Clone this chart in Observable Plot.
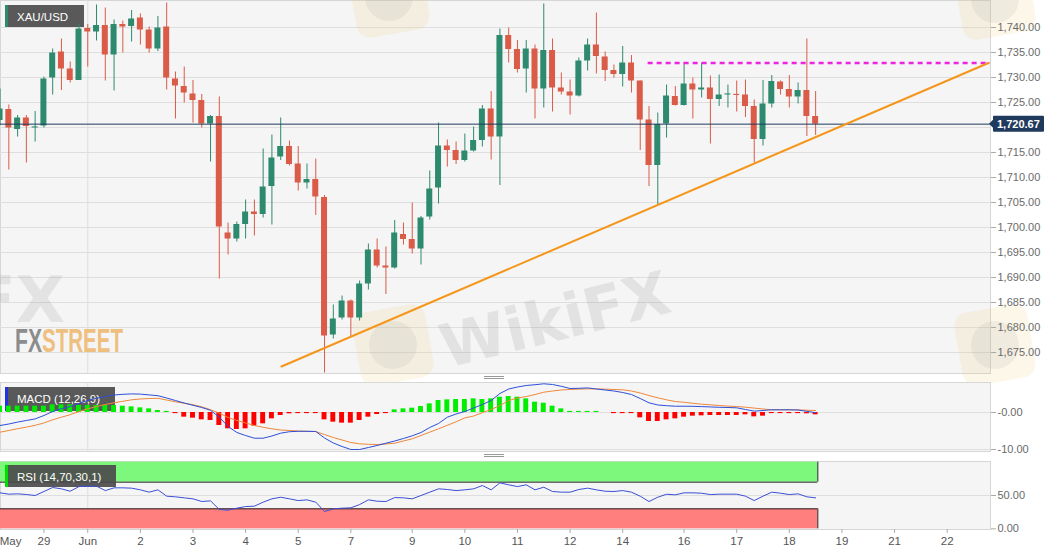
<!DOCTYPE html>
<html><head><meta charset="utf-8">
<script src="https://cdn.jsdelivr.net/npm/d3@7"></script>
<script src="https://cdn.jsdelivr.net/npm/@observablehq/plot@0.6"></script>
<style>
html,body{margin:0;padding:0;background:#fff;}
#chart{position:relative;width:1060px;height:555px;overflow:hidden;background:#fff;}
#chart svg{position:absolute;left:0;}
</style></head><body><div id="chart"></div>
<script>
// ---------- data (4-hour candles, XAU/USD) ----------
const opens = [1721.4,1723.6,1719.6,1721.9,1719.9,1720.3,1729.9,1735.1,1731.7,1729.4,
1739.8,1739.1,1740.4,1734.5,1740.6,1740.2,1741.9,1739.5,1735.7,1740.1,
1729.7,1728.2,1726.7,1725.4,1720.7,1722.2,1698.9,1697.7,1700.6,1703.1,
1702.6,1708.2,1714.1,1716.2,1712.7,1708.9,1709.6,1706.0,1678.5,1681.9,
1685.3,1681.9,1688.7,1695.5,1692.3,1691.9,1698.6,1697.6,1695.7,1702.1,
1707.9,1716.3,1715.4,1713.4,1715.3,1717.4,1723.7,1718.1,1738.4,1735.6,
1731.7,1735.7,1727.7,1735.4,1727.9,1727.1,1726.3,1733.3,1736.5,1734.1,
1731.4,1730.6,1732.9,1729.3,1721.5,1712.4,1720.7,1726.2,1724.4,1728.7,
1727.5,1727.9,1725.6,1726.5,1726.5,1726.5,1724.2,1717.6,1724.7,1729.1,
1727.6,1726.1,1727.4,1722.2];
const highs = [1727.7,1724.5,1722.4,1722.4,1723.2,1730.1,1735.7,1737.7,1733.1,1740.7,
1740.6,1744.5,1743.9,1741.5,1741.3,1743.4,1742.7,1740.1,1742.2,1744.9,
1731.1,1732.1,1729.4,1726.6,1722.4,1726.1,1700.9,1701.1,1705.5,1705.5,
1715.7,1718.5,1721.9,1717.3,1716.2,1712.7,1713.7,1706.4,1684.5,1686.3,
1685.5,1689.3,1696.7,1697.7,1696.1,1701.4,1700.9,1704.9,1702.2,1711.3,
1720.9,1717.5,1717.1,1718.7,1720.1,1724.4,1727.2,1739.7,1739.9,1737.4,
1737.4,1736.5,1744.7,1737.7,1730.9,1729.5,1733.9,1737.7,1742.9,1735.1,
1732.5,1736.2,1734.4,1729.3,1724.2,1722.9,1728.5,1728.2,1732.9,1729.9,
1732.9,1730.3,1730.5,1728.5,1729.3,1729.5,1725.5,1729.4,1730.4,1729.3,
1730.4,1728.9,1737.7,1727.2];
const lows = [1720.4,1711.5,1718.1,1712.9,1717.1,1719.9,1726.5,1727.4,1728.9,1729.4,
1732.1,1737.3,1729.3,1727.3,1734.9,1737.1,1736.5,1734.9,1735.2,1727.5,
1721.7,1724.9,1720.9,1719.9,1713.1,1689.7,1694.5,1697.1,1697.7,1698.3,
1701.9,1700.5,1713.4,1712.3,1707.3,1707.7,1702.4,1670.9,1677.7,1681.5,
1678.2,1681.3,1687.5,1691.9,1686.6,1691.7,1696.5,1694.7,1692.5,1701.5,
1704.7,1712.1,1712.6,1713.1,1715.1,1716.1,1713.5,1708.4,1732.9,1730.9,
1726.9,1721.7,1723.9,1723.1,1726.5,1722.5,1726.1,1731.3,1730.7,1729.2,
1729.9,1728.1,1726.9,1715.4,1708.2,1704.6,1717.9,1724.3,1724.3,1721.7,
1725.9,1716.7,1724.2,1723.9,1723.1,1722.0,1712.9,1716.3,1723.9,1726.5,
1723.9,1724.7,1718.2,1718.4];
const closes = [1723.7,1719.9,1721.9,1720.2,1720.1,1729.7,1734.9,1731.7,1729.4,1739.7,
1739.1,1740.4,1734.5,1740.6,1740.1,1741.7,1739.5,1735.7,1739.9,1729.9,
1728.3,1726.9,1725.4,1720.7,1722.2,1700.1,1697.7,1700.6,1703.1,1702.6,
1708.1,1713.9,1716.2,1712.6,1708.9,1709.6,1706.1,1678.3,1681.7,1685.3,
1681.9,1688.7,1695.5,1692.3,1691.9,1698.9,1697.6,1695.7,1701.9,1707.7,
1716.3,1715.4,1713.4,1715.3,1717.4,1723.7,1718.1,1738.4,1735.6,1731.6,
1735.7,1727.7,1735.4,1727.9,1727.1,1726.3,1733.3,1736.5,1734.2,1731.4,
1730.6,1732.9,1729.3,1721.5,1712.4,1720.6,1726.3,1724.4,1728.7,1727.5,
1727.9,1725.6,1726.5,1726.6,1726.4,1724.2,1717.6,1724.7,1729.2,1727.6,
1726.1,1727.4,1722.2,1720.67];

const macdLine = [-3.51,-3.11,-2.59,-2.16,-1.73,-0.81,0.27,1.0,1.62,2.43,
3.24,3.86,4.32,4.73,4.92,5.03,4.97,4.76,4.54,3.92,
3.24,2.57,1.95,1.35,0.59,-1.27,-3.78,-5.4,-6.22,-6.95,
-6.95,-6.35,-5.59,-5.19,-5.08,-5.08,-5.14,-6.89,-8.24,-9.19,
-10.0,-10.0,-9.46,-8.92,-8.30,-7.70,-7.03,-6.30,-5.41,-4.05,
-2.97,-1.27,-0.41,0.27,1.22,2.16,3.24,5.14,6.35,6.89,
7.30,7.51,7.76,7.57,7.08,6.49,6.54,6.65,6.35,6.08,
5.81,5.41,4.86,3.78,2.62,2.03,1.84,1.70,1.70,1.68,
1.59,1.51,1.41,1.35,1.27,0.81,0.38,0.54,0.73,0.73,
0.73,0.68,0.32,-0.05];
const signalLine = [-5.32,-4.86,-4.38,-3.95,-3.46,-2.84,-1.97,-1.27,-0.59,0.27,
1.0,1.62,2.16,2.62,3.03,3.43,3.65,3.78,3.84,3.38,
2.89,2.49,2.11,1.54,0.76,-0.16,-1.35,-2.16,-2.84,-3.51,
-4.0,-4.41,-4.73,-4.86,-5.0,-5.08,-5.14,-5.95,-6.76,-7.43,
-8.11,-8.46,-8.59,-8.65,-8.51,-8.30,-7.70,-7.11,-6.22,-5.32,
-4.41,-3.46,-2.51,-1.46,-0.95,-0.05,0.81,1.89,3.24,3.92,
4.32,4.86,5.49,5.81,6.08,6.22,6.32,6.38,6.38,6.32,
6.22,6.14,5.81,5.27,4.59,3.97,3.43,2.97,2.76,2.49,
2.24,2.08,1.89,1.73,1.62,1.43,1.19,0.95,0.73,0.73,
0.73,0.70,0.62,0.54];
const histogram = [1.71,1.71,1.71,1.71,1.71,1.71,2.07,2.07,2.07,1.89,
1.89,1.89,1.89,1.89,1.71,1.53,1.26,0.99,0.54,0.3,
-0.3,-1.26,-1.53,-1.98,-2.16,-3.51,-4.41,-4.59,-4.41,-3.69,
-3.06,-1.71,-0.81,-0.36,-0.3,-0.3,-0.3,-1.98,-2.61,-2.88,
-2.88,-2.16,-1.26,-0.54,-0.3,0.72,0.99,1.17,1.62,2.34,
3.24,3.42,3.51,3.51,3.69,3.51,3.69,4.14,4.32,4.14,
3.69,2.79,2.52,1.71,0.99,0.3,0.3,0.3,0.3,0,
-0.3,-0.3,-0.3,-1.44,-2.43,-2.43,-1.98,-1.71,-1.26,-0.99,
-0.9,-0.81,-0.81,-0.81,-0.81,-0.63,-1.17,-0.99,-0.3,-0.3,
-0.3,-0.3,-0.35,-0.63];
const rsi = [54,52,52.5,51.5,50,56,62,60,56.4,63.4,
64,64,57.4,61.5,61.5,61,58.5,55,58.5,49,
48,46.5,45,41,42,29,28,31,33.4,34,
40,45,47.4,45,42.4,43.5,40,26,30,31,
31.5,36.4,43.5,41.4,41,46.9,46.5,45,50,55,
60,59,57.4,58.5,60,65,58.5,69,66,63.4,
66,58.5,62.4,56,55,55,59,61,58.5,56.4,
56,57.4,55,48.9,41,47.4,51.9,51,54,54,
53.4,51.4,52,52,52,49,42.4,49,55,53.4,
51.4,52.5,48,46.5];

const tickPos = [1.2,5,10,16,22,28,34,40,47,53,59,65,71,78,84,90,96,102,108];
const tickLabels = ["May","29","Jun","2","3","4","5","7","9","10","11","12","14","16","17","18","19","21","22"];
const monthStart = 10;
const priceGrid = [1675,1680,1685,1690,1695,1700,1705,1710,1715,1720,1725,1730,1735,1740];
const priceAxis = [1675,1680,1685,1690,1695,1700,1705,1710,1715,1725,1730,1735,1740];
const macdTicks = [0,-10];
const rsiTicks = [50,0];
const currentPrice = 1720.67;
const resistanceLevel = 1732.9, resistanceStart = 73.9;
const trendline = [{i:32.09, p:1672.2},{i:112.7, p:1732.9}];
const rsiBands = [{lo:70, hi:100, color:"#7df87d"},{lo:0, hi:30, color:"#ff7e7e"}];

// ---------- helpers ----------
const GREEN = "#2e8a6e", RED = "#d95b48";
const FONT = "'Liberation Sans', Arial, sans-serif";
const xDomain = [0.05, 112.94];
const NS = "http://www.w3.org/2000/svg";
function el(tag, attrs = {}, text) {
  const e = document.createElementNS(NS, tag);
  for (const k in attrs) e.setAttribute(k, attrs[k]);
  if (tag === "text" && !("text-anchor" in attrs)) e.setAttribute("text-anchor", "start");
  if (text != null) e.textContent = text;
  return e;
}
function labelBox(g, x, y, w, h, stripe, text, tx, ty) {
  g.append(el("rect", {x, y, width:w, height:h, fill:"#4b4b4b", "fill-opacity":0.92}));
  g.append(el("rect", {x, y, width:3, height:h, fill:stripe}));
  g.append(el("text", {x:tx, y:ty, fill:"#fff", "font-size":11.5, "font-family":FONT}, text));
}
function grip(g, y) {
  g.append(el("line", {x1:484, x2:504, y1:y, y2:y, stroke:"#999", "stroke-width":1}));
  g.append(el("line", {x1:484, x2:504, y1:y+2, y2:y+2, stroke:"#999", "stroke-width":1}));
}

const candles = opens.map((o, i) => ({i, o, h: highs[i], l: lows[i], c: closes[i]}));
const rising = candles.filter(d => d.c >= d.o);
const falling = candles.filter(d => d.c < d.o);
const bodyLo = d => Math.min(d.o, d.c);
const bodyHi = d => Math.max(d.o, d.c, Math.min(d.o, d.c) + 0.22);
const macdData = macdLine.map((m, i) => ({i, m, s: signalLine[i], h: histogram[i]}));
const rsiData = rsi.map((v, i) => ({i, v}));
const lastX = candles.length - 1 + 0.25;
const labelOf = new Map(tickPos.map((p, k) => [p, tickLabels[k]]));

const baseStyle = {background:"transparent", overflow:"visible", fontFamily:FONT, fontSize:"11px", color:"#666"};

// ---------- main price panel ----------
function mainDecor() {
  const g = el("g");
  // faint watermarks
  g.append(el("text", {x:-28, y:322, "font-size":64, "font-weight":"bold", "font-family":"DejaVu Sans", fill:"#888", "fill-opacity":0.16}, "FX"));
  for (const [x, y] of [[352,-40],[958,-38],[958,308],[356,308]]) {
    g.append(el("rect", {x, y, width:74, height:74, rx:14, fill:"#efcf78", "fill-opacity":0.16, transform:`rotate(-10 ${x+37} ${y+37})`}));
    g.append(el("circle", {cx:x+37, cy:y+37, r:24, fill:"#888", "fill-opacity":0.10}));
  }
  g.append(el("text", {x:560, y:340, transform:"rotate(-14 560 340)", "text-anchor":"middle", "font-size":60, "font-weight":"bold", "font-family":"DejaVu Sans", fill:"#777", "fill-opacity":0.15}, "WikiFX"));
  // FXStreet logo
  g.append(el("text", {x:15, y:352, "font-size":33, "font-weight":"bold", "font-family":"'Liberation Sans Narrow', 'Liberation Sans'", fill:"#8c8c8c", textLength:27, lengthAdjust:"spacingAndGlyphs"}, "FX"));
  g.append(el("text", {x:42, y:352, "font-size":33, "font-weight":"bold", "font-family":"'Liberation Sans Narrow', 'Liberation Sans'", fill:"#efbf80", textLength:81, lengthAdjust:"spacingAndGlyphs"}, "STREET"));
  labelBox(g, 5, 5, 79, 22, "#2e8a6e", "XAU/USD", 17, 20.5);
  return g;
}
function priceTag(index, scales) {
  const yy = scales.y(currentPrice);
  const g = el("g");
  g.append(el("path", {d:`M989,${yy} L994,${yy-5} L994,${yy+5} Z`, fill:"#1f3a5c"}));
  g.append(el("rect", {x:993, y:yy-8, width:51, height:16, fill:"#1f3a5c", rx:1}));
  g.append(el("text", {x:997, y:yy+4, fill:"#fff", "font-size":11, "font-weight":"bold", "font-family":FONT}, d3.format(",.2f")(currentPrice)));
  return g;
}

const mainPlot = Plot.plot({
  width:1060, height:374, marginLeft:0, marginRight:70, marginTop:0, marginBottom:1,
  style: baseStyle,
  x: {domain:xDomain, axis:null},
  y: {domain:[1670.8, 1745.4]},
  marks: [
    Plot.frame({fill:"#f5f5f5", stroke:"#d6d6d6"}),
    Plot.gridY(priceGrid, {stroke:"#dedede", strokeOpacity:1}),
    Plot.ruleX([monthStart], {stroke:"#dedede"}),
    mainDecor,
    Plot.ruleX(rising, {x:"i", y1:"l", y2:"h", stroke:GREEN, strokeWidth:1}),
    Plot.ruleX(falling, {x:"i", y1:"l", y2:"h", stroke:RED, strokeWidth:1}),
    Plot.rect(rising, {x1:d => d.i - 0.342, x2:d => d.i + 0.342, y1:bodyLo, y2:bodyHi, fill:GREEN}),
    Plot.rect(falling, {x1:d => d.i - 0.342, x2:d => d.i + 0.342, y1:bodyLo, y2:bodyHi, fill:RED}),
    Plot.ruleY([currentPrice], {stroke:"#1f3a5c", strokeWidth:1}),
    Plot.ruleY([resistanceLevel], {x1:resistanceStart, x2:xDomain[1], stroke:"#ee22e0", strokeWidth:2.5, strokeDasharray:"5,4"}),
    Plot.line(trendline, {x:"i", y:"p", stroke:"#f5961a", strokeWidth:2}),
    Plot.axisY(priceAxis, {anchor:"right", tickSize:5, tickPadding:2, tickFormat:d3.format(",.2f"), label:null, fill:"#6a6a6a", stroke:"#aaa", fontSize:11}),
    priceTag
  ]
});

// ---------- MACD panel ----------
function macdDecor() {
  const g = el("g");
  grip(g, 2.5);
  labelBox(g, 5, 13, 110, 24, "#2233e0", "MACD (12,26,9)", 17, 29.3);
  return g;
}
const macdPlot = Plot.plot({
  width:1060, height:78, marginLeft:0, marginRight:70, marginTop:8, marginBottom:1,
  style: baseStyle,
  x: {domain:xDomain, axis:null},
  y: {domain:[-10.54, 8.11]},
  marks: [
    Plot.frame({fill:"#f5f5f5", stroke:"#d6d6d6"}),
    Plot.gridY(macdTicks, {stroke:"#dedede", strokeOpacity:1}),
    Plot.ruleX([monthStart], {stroke:"#dedede"}),
    macdDecor,
    Plot.rect(macdData.filter(d => d.h > 0), {x1:d => d.i - 0.28, x2:d => d.i + 0.28, y1:0, y2:"h", fill:"#00ee00"}),
    Plot.rect(macdData.filter(d => d.h < 0), {x1:d => d.i - 0.28, x2:d => d.i + 0.28, y1:0, y2:"h", fill:"#ff0000"}),
    Plot.line(macdData, {x:"i", y:"s", stroke:"#f0873a", strokeWidth:1}),
    Plot.line(macdData, {x:"i", y:"m", stroke:"#2d4fd9", strokeWidth:1}),
    Plot.axisY(macdTicks, {anchor:"right", tickSize:5, tickPadding:2, tickFormat:d => d === 0 ? "-0.00" : d.toFixed(2), label:null, fill:"#6a6a6a", stroke:"#aaa", fontSize:11})
  ]
});

// ---------- RSI panel ----------
function rsiDecor() {
  const g = el("g");
  grip(g, 2.5);
  labelBox(g, 5, 13, 111, 22, "#00dd00", "RSI (14,70,30,1)", 17, 29);
  return g;
}
const rsiPlot = Plot.plot({
  width:1060, height:103, marginLeft:0, marginRight:70, marginTop:9, marginBottom:26,
  style: baseStyle,
  x: {domain:xDomain},
  y: {domain:[-1, 101]},
  marks: [
    Plot.frame({fill:"#f5f5f5", stroke:"#d6d6d6"}),
    Plot.gridY([50], {stroke:"#dedede", strokeOpacity:1}),
    Plot.ruleX([monthStart], {stroke:"#dedede"}),
    Plot.rect(rsiBands, {x1:xDomain[0], x2:lastX, y1:"lo", y2:"hi", fill:"color"}),
    Plot.ruleY([rsiBands[0].lo, rsiBands[1].hi], {x1:xDomain[0], x2:lastX, stroke:"#222", strokeWidth:1}),
    Plot.ruleX([lastX], {y1:rsiBands[0].lo, y2:rsiBands[0].hi, stroke:"#222"}),
    Plot.ruleX([lastX], {y1:rsiBands[1].lo, y2:rsiBands[1].hi, stroke:"#222"}),
    rsiDecor,
    Plot.line(rsiData, {x:"i", y:"v", stroke:"#3a4fd6", strokeWidth:1}),
    Plot.axisY(rsiTicks, {anchor:"right", tickSize:5, tickPadding:2, tickFormat:d => d.toFixed(2), label:null, fill:"#6a6a6a", stroke:"#aaa", fontSize:11}),
    Plot.axisX(tickPos.slice(1), {anchor:"bottom", tickSize:4, tickFormat:() => "", label:null, stroke:"#aaa"}),
    Plot.axisX(tickPos, {anchor:"bottom", tickSize:0, tickPadding:7, tickFormat:d => labelOf.get(d), label:null, fill:"#555", fontSize:11.5})
  ]
});

const root = document.getElementById("chart");
mainPlot.style.top = "0px";
macdPlot.style.top = "374px";
rsiPlot.style.top = "452px";
root.append(mainPlot, macdPlot, rsiPlot);
</script>
</body></html>
